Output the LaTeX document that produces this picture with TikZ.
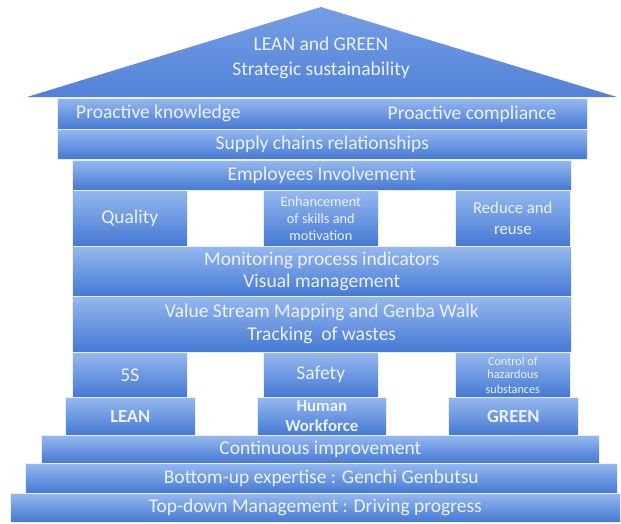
\documentclass[tikz,border=0pt]{standalone}
\usepackage{fontspec}
\setmainfont{Carlito}
\usetikzlibrary{positioning}

\definecolor{barTop}{RGB}{150,184,238}
\definecolor{barBottom}{RGB}{68,120,212}
\definecolor{roofTop}{RGB}{118,158,228}
\definecolor{roofBottom}{RGB}{82,130,216}
\definecolor{txtLight}{RGB}{236,242,251}

\begin{document}
\begin{tikzpicture}[
    x=1pt, y=-1pt,
    bar/.style = {draw=white!80!barTop, line width=0.6pt, top color=barTop, bottom color=barBottom,
                  text=txtLight, anchor=north west, inner sep=0pt, align=center,
                  font=\fontsize{19.5}{22}\selectfont},
    pillar/.style = {bar, minimum width=115pt},
    small_pillar/.style = {pillar, font=\fontsize{14.3}{17}\selectfont},
    tiny_pillar/.style = {pillar, font=\fontsize{12.2}{14}\selectfont},
    base_block/.style = {bar, minimum height=38pt, font=\fontsize{18.5}{20}\selectfont\bfseries},
    bar_text/.style = {text=txtLight, inner sep=0pt, font=\fontsize{19.5}{22}\selectfont}
]
\useasboundingbox (0,0) rectangle (621,523);

% --- Roof ---
\shade[top color=roofTop, bottom color=roofBottom] (27,97) -- (321,7) -- (617,97) -- cycle;
\node[bar_text, align=center, font=\fontsize{19.5}{25}\selectfont] (roof_label) at (321,58) {LEAN and GREEN\\Strategic sustainability};

% --- Upper beams ---
\node[bar, minimum width=530pt, minimum height=31pt] (proactive) at (57,98) {};
\node[bar_text, right=19pt of proactive.west] (know) {Proactive knowledge};
\node[bar_text, left=31pt of proactive.east] (comply) {Proactive compliance};
\node[bar, minimum width=530pt, minimum height=30pt] (supply) at (57,129) {Supply chains relationships};
\node[bar, minimum width=499pt, minimum height=30pt] (employees) at (72,160) {Employees Involvement};

% --- Upper pillars ---
\node[pillar, minimum height=56pt] (quality) at (72,190) {Quality};
\node[small_pillar, minimum height=56pt] (skills) at (263,190) {Enhancement\\of skills and\\motivation};
\node[pillar, minimum height=56pt, font=\fontsize{16.7}{21}\selectfont] (reduce) at (455,190) {Reduce and\\reuse};

% --- Middle beams ---
\node[bar, minimum width=499pt, minimum height=50pt, font=\fontsize{19.5}{21.5}\selectfont] (monitoring) at (72,246) {Monitoring process indicators\\Visual management};
\node[bar, minimum width=499pt, minimum height=56pt, font=\fontsize{19.5}{23}\selectfont] (vsm) at (72,296) {Value Stream Mapping and Genba Walk\\Tracking~ of wastes};

% --- Lower pillars ---
\node[pillar, minimum height=45pt] (fiveS) at (72,352) {5S};
\node[pillar, minimum height=45pt] (safety) at (263,352) {Safety};
\node[tiny_pillar, minimum height=45pt] (hazard) at (455,352) {Control of\\hazardous\\substances};

% --- Bases of the pillars ---
\node[base_block, minimum width=130pt] (lean) at (65,397) {LEAN};
\node[base_block, minimum width=129pt, font=\fontsize{16.8}{20}\selectfont\bfseries] (human) at (257,397) {Human\\Workforce};
\node[base_block, minimum width=130pt] (green) at (448,397) {GREEN};

% --- Steps ---
\node[bar, minimum width=558pt, minimum height=28pt] (continuous) at (41,435) {Continuous improvement};
\node[bar, minimum width=592pt, minimum height=30pt] (bottomup) at (25,463) {Bottom-up expertise : Genchi Genbutsu};
\node[bar, minimum width=610pt, minimum height=29pt] (topdown) at (10,493) {Top-down Management : Driving progress};

\end{tikzpicture}
\end{document}
